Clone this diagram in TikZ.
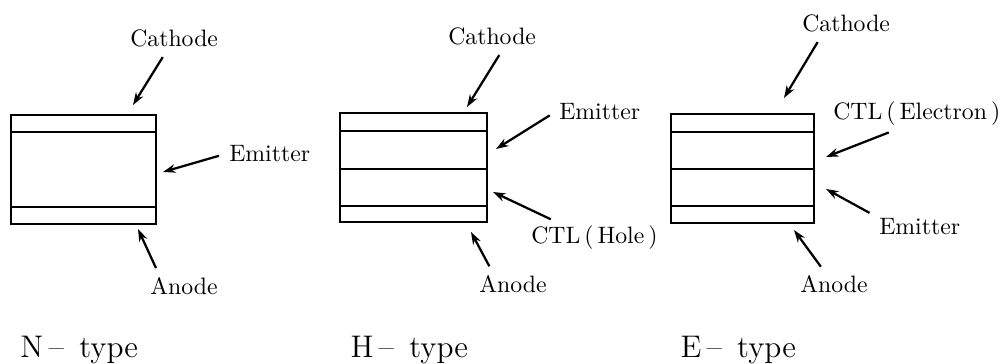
\documentclass[tikz,border=0pt]{standalone}
\usetikzlibrary{arrows.meta}

\begin{document}
\begin{tikzpicture}[
  x=0.4pt, y=-0.4pt,
  layers/.style={rectangle, draw, line width=0.7pt, minimum height=43.6pt, inner sep=0pt, outer sep=0pt},
  sep/.style={line width=0.7pt},
  lbl/.style={anchor=base west, inner sep=1.5pt, font=\fontsize{9.5}{11}\selectfont},
  kind/.style={anchor=base west, inner sep=0pt, font=\fontsize{12.5}{15}\selectfont},
  arr/.style={-{Stealth[length=5pt, width=3.4pt]}, line width=0.9pt, shorten <=2.5pt}
]
\useasboundingbox (0,0) rectangle (1001,364);

% N-type
\node[layers, minimum width=58pt] (nbox) at (83.5,169.5) {};
\foreach \y in {132,207} \draw[sep] (nbox.west |- 0,\y) -- (nbox.east |- 0,\y);
\node[lbl] (ncat) at (126,47) {Cathode};
\node[lbl] (nemi) at (225,162) {Emitter};
\node[lbl] (nano) at (146,295) {Anode};
\node[kind] (ntype) at (20,358) {N\,--\ \,type};
\coordinate (ncat-p) at (133,105);
\coordinate (nemi-p) at (163,172);
\coordinate (nano-p) at (138,229);
\draw[arr] (ncat.238) -- (ncat-p);
\draw[arr] (nemi.west) -- (nemi-p);
\draw[arr] (nano.153) -- (nano-p);

% H-type
\node[layers, minimum width=58.8pt] (hbox) at (413.5,167.5) {};
\foreach \y in {131,169,206} \draw[sep] (hbox.west |- 0,\y) -- (hbox.east |- 0,\y);
\node[lbl] (hcat) at (444,45) {Cathode};
\node[lbl] (hemi) at (555,120) {Emitter};
\node[lbl] (hctl) at (527,244) {CTL\,(\,Hole\,)};
\node[lbl] (hano) at (475,293) {Anode};
\node[kind] (htype) at (350,358) {H\,--\ \,type};
\coordinate (hcat-p) at (467,107);
\coordinate (hemi-p) at (496,149);
\coordinate (hctl-p) at (493,192);
\coordinate (hano-p) at (471,232);
\draw[arr] (hcat.309) -- (hcat-p);
\draw[arr] (hemi.west) -- (hemi-p);
\draw[arr] (hctl.157) -- (hctl-p);
\draw[arr] (hano.148) -- (hano-p);

% E-type
\node[layers, minimum width=57.2pt] (ebox) at (742.5,168.5) {};
\foreach \y in {132,169,206} \draw[sep] (ebox.west |- 0,\y) -- (ebox.east |- 0,\y);
\node[lbl] (ecat) at (798,32) {Cathode};
\node[lbl] (ectl) at (829,120) {CTL\,(\,Electron\,)};
\node[lbl] (eemi) at (875,235) {Emitter};
\node[lbl] (eano) at (796,293) {Anode};
\node[kind] (etype) at (680,358) {E\,--\ \,type};
\coordinate (ecat-p) at (784,98);
\coordinate (ectl-p) at (826,157);
\coordinate (eemi-p) at (826,189);
\coordinate (eano-p) at (794,230);
\draw[arr] (ecat.207) -- (ecat-p);
\draw[arr] (ectl.216) -- (ectl-p);
\draw[arr] (eemi.166) -- (eemi-p);
\draw[arr] (eano.126) -- (eano-p);

\end{tikzpicture}
\end{document}
